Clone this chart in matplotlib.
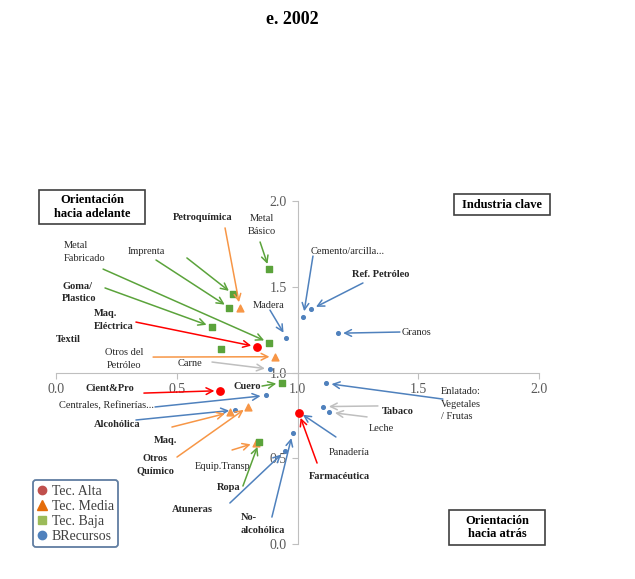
import matplotlib
matplotlib.use('Agg')
import matplotlib.pyplot as plt
from matplotlib.lines import Line2D
from matplotlib.patches import Rectangle

plt.rcParams['font.family'] = 'Liberation Serif'

# datos (encadenamientos hacia atrás, hacia adelante)
alta_nombres = ['Maq. Eléctrica', 'Cient&Pro', 'Farmacéutica']
alta_x = [0.831, 0.679, 1.005]
alta_y = [1.150, 0.894, 0.766]

media_nombres = ['Petroquímica', 'Otros del Petróleo', 'Maq.', 'Otros Químico', 'Equip.Transp']
media_x = [0.762, 0.907, 0.722, 0.796, 0.828]
media_y = [1.378, 1.092, 0.768, 0.801, 0.591]

baja_nombres = ['Metal Básico', 'Imprenta', 'Papel', 'Goma/Plastico', 'Metal Fabricado',
                'Textil', 'Cuero', 'Ropa']
baja_x = [0.883, 0.718, 0.734, 0.645, 0.883, 0.682, 0.935, 0.842]
baja_y = [1.602, 1.378, 1.456, 1.267, 1.174, 1.137, 0.941, 0.597]

rec_nombres = ['Madera', 'Cemento/arcilla', 'Ref. Petróleo', 'Granos', 'Carne', 'Centrales',
               'Alcohólica', 'Atuneras', 'No-alcohólica', 'Panadería', 'Enlatado', 'Tabaco', 'Leche']
rec_x = [0.954, 1.024, 1.056, 1.166, 0.888, 0.870, 0.740, 0.949, 0.980, 1.003, 1.118, 1.107, 1.132]
rec_y = [1.204, 1.325, 1.368, 1.229, 1.019, 0.866, 0.781, 0.544, 0.649, 0.772, 0.937, 0.801, 0.768]

ticks = [0.0, 0.5, 1.0, 1.5, 2.0]

ROJO = '#FF0000'
NARANJA = '#F79646'
VERDE = '#5BA33B'
AZUL = '#4F81BD'
GRIS = '#BFBFBF'

# etiquetas: nombre -> (texto, x, y, ha, negrita, cola flecha, color flecha)
etiquetas = {
    'Petroquímica': ('Petroquímica', 0.609, 1.901, 'center', True, (0.700, 1.843), NARANJA),
    'Metal Básico': ('Metal\nBásico', 0.853, 1.860, 'center', False, (0.845, 1.761), VERDE),
    'Metal Fabricado': ('Metal\nFabricado', 0.033, 1.703, 'left', False, (0.195, 1.603), VERDE),
    'Imprenta': ('Imprenta', 0.298, 1.708, 'left', False, (0.414, 1.656), VERDE),
    'Papel': ('', 0, 0, 'left', False, (0.542, 1.668), VERDE),
    'Goma/Plastico': ('Goma/\nPlastico', 0.025, 1.464, 'left', True, (0.203, 1.493), VERDE),
    'Maq. Eléctrica': ('Maq.\nEléctrica', 0.157, 1.306, 'left', True, (0.331, 1.294), ROJO),
    'Textil': ('Textil', 0.0, 1.190, 'left', True, None, None),
    'Otros del Petróleo': ('Otros del\nPetróleo', 0.282, 1.079, 'center', False, (0.402, 1.090), NARANJA),
    'Carne': ('Carne', 0.505, 1.050, 'left', False, (0.646, 1.061), GRIS),
    'Madera': ('Madera', 0.816, 1.388, 'left', False, (0.886, 1.364), AZUL),
    'Cemento/arcilla': ('Cemento/arcilla...', 1.056, 1.708, 'left', False, (1.064, 1.679), AZUL),
    'Ref. Petróleo': ('Ref. Petróleo', 1.226, 1.569, 'left', True, (1.271, 1.522), AZUL),
    'Granos': ('Granos', 1.433, 1.236, 'left', False, (1.424, 1.236), AZUL),
    'Cient&Pro': ('Cient&Pro', 0.124, 0.904, 'left', True, (0.364, 0.880), ROJO),
    'Cuero': ('Cuero', 0.733, 0.921, 'left', True, (0.853, 0.921), VERDE),
    'Centrales': ('Centrales, Refinerías...', 0.012, 0.805, 'left', False, (0.410, 0.799), AZUL),
    'Alcohólica': ('Alcohólica', 0.157, 0.694, 'left', True, (0.331, 0.723), AZUL),
    'Maq.': ('Maq.', 0.406, 0.606, 'left', True, (0.480, 0.682), NARANJA),
    'Otros Químico': ('Otros\nQuímico', 0.410, 0.461, 'center', True, (0.501, 0.507), NARANJA),
    'Equip.Transp': ('Equip.Transp', 0.576, 0.449, 'left', False, (0.729, 0.548), NARANJA),
    'Ropa': ('Ropa', 0.667, 0.332, 'left', True, (0.774, 0.338), VERDE),
    'Atuneras': ('Atuneras', 0.480, 0.204, 'left', True, (0.720, 0.239), AZUL),
    'No-alcohólica': ('No-\nalcohólica', 0.766, 0.117, 'left', True, (0.894, 0.157), AZUL),
    'Farmacéutica': ('Farmacéutica', 1.048, 0.391, 'left', True, (1.081, 0.472), ROJO),
    'Panadería': ('Panadería', 1.130, 0.536, 'left', False, (1.159, 0.624), AZUL),
    'Tabaco': ('Tabaco', 1.350, 0.770, 'left', True, (1.333, 0.805), GRIS),
    'Leche': ('Leche', 1.296, 0.676, 'left', False, (1.288, 0.741), GRIS),
    'Enlatado': ('Enlatado:\nVegetales\n/ Frutas', 1.594, 0.816, 'left', False, (1.602, 0.845), AZUL),
}

W, H = 635, 579
fig = plt.figure(figsize=(6.35, 5.79), dpi=100)
ax = fig.add_axes([56 / W, 35 / H, 483 / W, 343 / H])
ax.set_xlim(0, 2)
ax.set_ylim(0, 2)

# ejes cruzando en (1, 1)
ax.spines['left'].set_position(('data', 1.0))
ax.spines['bottom'].set_position(('data', 1.0))
ax.spines['right'].set_visible(False)
ax.spines['top'].set_visible(False)
for s in ['left', 'bottom']:
    ax.spines[s].set_color(GRIS)
ax.set_xticks(ticks)
ax.set_yticks(ticks)
ax.set_xticklabels(['%.1f' % t for t in ticks])
ax.set_yticklabels(['%.1f' % t for t in ticks])
ax.tick_params(colors=GRIS, labelcolor='#595959', labelsize=10, length=4)

ax.scatter(rec_x, rec_y, s=7, color=AZUL, zorder=3)
ax.scatter(alta_x, alta_y, s=28, color=ROJO, zorder=4)
ax.scatter(media_x, media_y, s=24, marker='^', color=NARANJA, zorder=3)
ax.scatter(baja_x, baja_y, s=16, marker='s', color=VERDE, zorder=3)

puntos = {}
for nombres, xs, ys in [(alta_nombres, alta_x, alta_y), (media_nombres, media_x, media_y),
                        (baja_nombres, baja_x, baja_y), (rec_nombres, rec_x, rec_y)]:
    for n, x, y in zip(nombres, xs, ys):
        puntos[n] = (x, y)

for n, (txt, tx, ty, ha, bold, cola, col) in etiquetas.items():
    if txt:
        ax.text(tx, ty, txt, ha=ha, va='center', fontsize=7.5,
                fontweight='bold' if bold else 'normal', color='#262626',
                linespacing=1.45, zorder=5)
    if cola is not None:
        ax.annotate('', xy=puntos[n], xytext=cola,
                    arrowprops=dict(arrowstyle='->', color=col, lw=1.1,
                                    shrinkA=0, shrinkB=4, mutation_scale=12))

# cuadros de los cuadrantes (en pixeles de la figura)
cuadros = [('Orientación\nhacia adelante', 39, 190, 145, 224),
           ('Industria clave', 454, 194, 550, 215),
           ('Orientación\nhacia atrás', 449, 510, 545, 545)]
for txt, x0, y0, x1, y1 in cuadros:
    fig.patches.append(Rectangle((x0 / W, 1 - y1 / H), (x1 - x0) / W, (y1 - y0) / H,
                                 transform=fig.transFigure, facecolor='white',
                                 edgecolor='#404040', lw=1.2, zorder=6))
    fig.text((x0 + x1) / 2 / W, 1 - (y0 + y1) / 2 / H, txt, ha='center', va='center',
             fontsize=9, fontweight='bold', linespacing=1.2, zorder=7)

fig.text(292 / W, 1 - 20 / H, 'e. 2002', ha='center', va='center', fontsize=13,
         fontweight='bold')

handles = [
    Line2D([], [], marker='o', ls='', color='#C0504D', markersize=6),
    Line2D([], [], marker='^', ls='', color='#E46C0A', markersize=7),
    Line2D([], [], marker='s', ls='', color='#9BBB59', markersize=6),
    Line2D([], [], marker='o', ls='', color='#4F81BD', markersize=6),
]
leg = fig.legend(handles, ['Tec. Alta', 'Tec. Media', 'Tec. Baja', 'BRecursos'],
                 loc='lower left', bbox_to_anchor=(33 / W, 32 / H), fontsize=10,
                 frameon=True, fancybox=True, handlelength=0.7, handletextpad=0.35,
                 labelspacing=0.15, borderpad=0.3, borderaxespad=0)
leg.get_frame().set_edgecolor('#385D8A')
leg.get_frame().set_linewidth(1.3)
for t in leg.get_texts():
    t.set_color('#404040')

fig.savefig('out.png', dpi=100)
